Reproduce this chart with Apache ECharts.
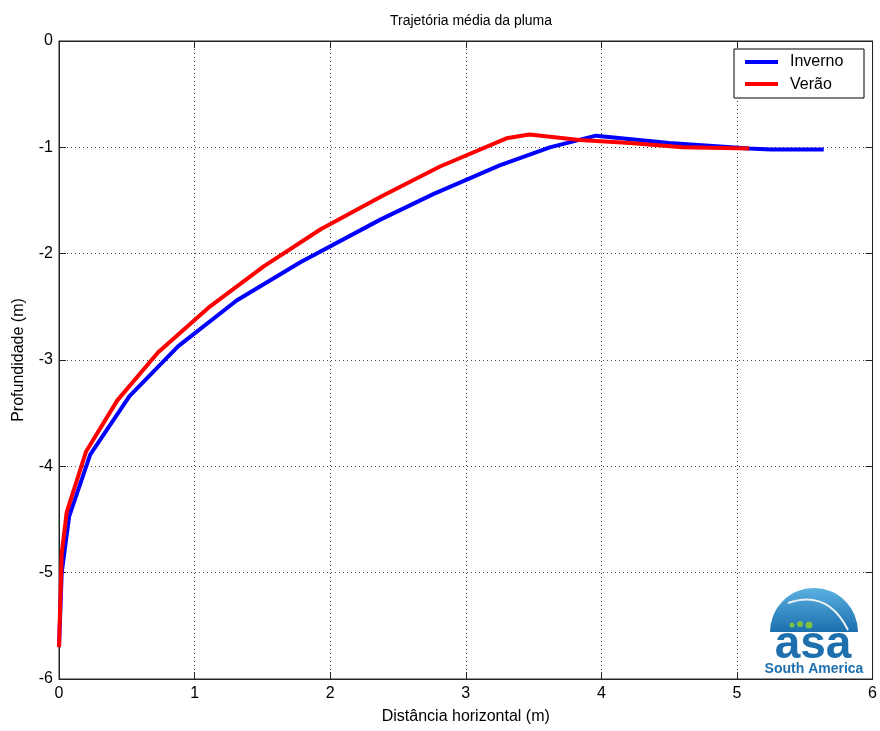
<!DOCTYPE html>
<html><head><meta charset="utf-8">
<script src="https://cdn.jsdelivr.net/npm/echarts@6/dist/echarts.min.js"></script>
<style>html,body{margin:0;padding:0;background:#fff}#c{width:880px;height:731px}</style>
</head><body><div id="c"></div>
<script>
const title = "Trajetória média da pluma";
const xName = "Distância horizontal (m)";
const yName = "Profundidade (m)";
const xTicks = [0,1,2,3,4,5,6];
const yTicks = [0,-1,-2,-3,-4,-5,-6];
const invernoX = [0.0, 0.02, 0.075, 0.23, 0.52, 0.88, 1.31, 1.78, 2.37, 2.76, 3.25, 3.62, 3.96, 4.5, 5.09, 5.25, 5.64];
const invernoY = [-5.7, -5.0, -4.47, -3.89, -3.34, -2.87, -2.44, -2.08, -1.68, -1.44, -1.17, -1.0, -0.89, -0.96, -1.01, -1.02, -1.02];
const veraoX = [0.0, 0.02, 0.057, 0.20, 0.43, 0.73, 1.10, 1.51, 1.93, 2.38, 2.81, 3.30, 3.47, 3.84, 4.21, 4.6, 5.09];
const veraoY = [-5.7, -4.82, -4.43, -3.86, -3.38, -2.93, -2.51, -2.12, -1.77, -1.46, -1.18, -0.915, -0.88, -0.93, -0.96, -1.0, -1.01];
const seriesNames = ["Inverno", "Verão"];

const zip = (a, b) => a.map((v, i) => [v, b[i]]);
const font = "Liberation Sans, Arial, sans-serif";
const chart = echarts.init(document.getElementById('c'), null, {renderer: 'canvas'});
const gridLine = {show: true, lineStyle: {color: '#444', type: [1, 3], width: 1}};
const axisBase = (pos) => ({
  axisLine: {show: true, onZero: false, lineStyle: {color: '#222'}},
  axisTick: {show: true, inside: true, length: 7, lineStyle: {color: '#222'}},
  position: pos
});
chart.setOption({
  animation: false,
  backgroundColor: '#fff',
  title: {text: title, left: 466, top: 9, textAlign: 'center',
    textStyle: {fontFamily: font, fontSize: 14, fontWeight: 'normal', color: '#000'}},
  grid: {left: 59, top: 41, right: 7, bottom: 52, show: true, borderColor: '#222', borderWidth: 1},
  legend: {show: false},
  xAxis: [Object.assign(axisBase('bottom'), {
    type: 'value', min: xTicks[0], max: xTicks[xTicks.length - 1], interval: 1,
    name: xName, nameLocation: 'middle', nameGap: 30,
    nameTextStyle: {fontFamily: font, fontSize: 16, color: '#000'},
    axisLabel: {fontFamily: font, fontSize: 16, color: '#000', margin: 7},
    splitLine: gridLine
  }), Object.assign(axisBase('top'), {
    type: 'value', min: xTicks[0], max: xTicks[xTicks.length - 1], interval: 1,
    axisLabel: {show: false}, splitLine: {show: false}
  })],
  yAxis: [Object.assign(axisBase('left'), {
    type: 'value', min: yTicks[yTicks.length - 1], max: yTicks[0], interval: 1,
    name: yName, nameLocation: 'middle', nameGap: 32, nameRotate: 90,
    nameTextStyle: {fontFamily: font, fontSize: 16, color: '#000'},
    axisLabel: {fontFamily: font, fontSize: 16, color: '#000', margin: 6},
    splitLine: gridLine
  }), Object.assign(axisBase('right'), {
    type: 'value', min: yTicks[yTicks.length - 1], max: yTicks[0], interval: 1,
    axisLabel: {show: false}, splitLine: {show: false}
  })],
  series: [
    {name: seriesNames[0], type: 'line', data: zip(invernoX, invernoY), showSymbol: false,
     lineStyle: {color: '#0000ff', width: 4}, itemStyle: {color: '#0000ff'}},
    {name: seriesNames[1], type: 'line', data: zip(veraoX, veraoY), showSymbol: false,
     lineStyle: {color: '#ff0000', width: 4}, itemStyle: {color: '#ff0000'}}
  ],
  graphic: [
    {type: 'rect', shape: {x: 734, y: 49, width: 130, height: 49},
     style: {fill: '#fff', stroke: '#000', lineWidth: 1}, z: 100},
    {type: 'line', shape: {x1: 745, y1: 62, x2: 778, y2: 62}, style: {stroke: '#0000ff', lineWidth: 4}, z: 101},
    {type: 'line', shape: {x1: 745, y1: 84, x2: 778, y2: 84}, style: {stroke: '#ff0000', lineWidth: 4}, z: 101},
    {type: 'text', x: 790, y: 62, style: {text: seriesNames[0], fontFamily: font, fontSize: 16, fill: '#000', verticalAlign: 'middle'}, z: 101},
    {type: 'text', x: 790, y: 85, style: {text: seriesNames[1], fontFamily: font, fontSize: 16, fill: '#000', verticalAlign: 'middle'}, z: 101},
    // logo
    {type: 'rect', shape: {x: 757, y: 582, width: 115, height: 96}, style: {fill: '#fff'}, z: 90},
    {type: 'sector', shape: {cx: 814, cy: 632, r0: 0, r: 44, startAngle: Math.PI, endAngle: 2 * Math.PI},
     style: {fill: new echarts.graphic.LinearGradient(0, 0, 0, 1, [{offset: 0, color: '#5ab0e0'}, {offset: 1, color: '#1c6fae'}])}, z: 91},
    {type: 'bezierCurve', shape: {x1: 788, y1: 603, x2: 848, y2: 630, cpx1: 820, cpy1: 592, cpx2: 838, cpy2: 610},
     style: {stroke: '#e8f0f6', lineWidth: 2, fill: null}, z: 92},
    {type: 'circle', shape: {cx: 792, cy: 625, r: 2.5}, style: {fill: '#7cc142'}, z: 92},
    {type: 'circle', shape: {cx: 800, cy: 624, r: 3}, style: {fill: '#7cc142'}, z: 92},
    {type: 'circle', shape: {cx: 809, cy: 625, r: 3.5}, style: {fill: '#7cc142'}, z: 92},
    {type: 'text', x: 813, y: 645, style: {text: 'asa', fontFamily: font, fontSize: 46, fontWeight: 'bold', fill: '#1d6fae', align: 'center', verticalAlign: 'middle'}, z: 93},
    {type: 'text', x: 814, y: 669, style: {text: 'South America', fontFamily: font, fontSize: 14, fontWeight: 'bold', fill: '#1d6fae', align: 'center', verticalAlign: 'middle'}, z: 93}
  ]
});
</script></body></html>
